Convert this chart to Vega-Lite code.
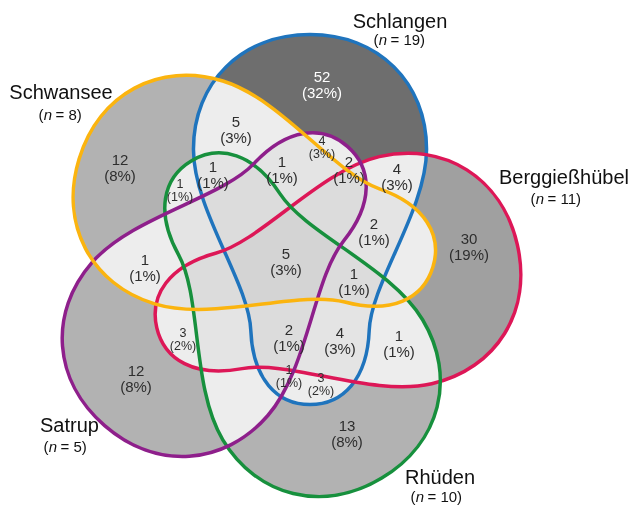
{
  "$schema": "https://vega.github.io/schema/vega-lite/v6.json",
  "width": 633,
  "height": 505,
  "padding": 0,
  "autosize": {"type": "fit", "contains": "padding"},
  "background": "white",
  "config": {"view": {"stroke": null}, "font": "Liberation Sans"},
  "datasets": {
    "shapes": [
      {"set": "Schlangen", "cx": 310, "cy": 219.5},
      {"set": "Berggießhübel", "cx": 337, "cy": 286},
      {"set": "Rhüden", "cx": 286.5, "cy": 319.5},
      {"set": "Satrup", "cx": 226, "cy": 286},
      {"set": "Schwansee", "cx": 256, "cy": 213}
    ],
    "frame": [{"part": "plot"}],
    "regions": [
      {"region": "Schlangen", "count": 52, "pct": 32, "x": 322, "y": 84.5},
      {"region": "Schlangen ∩ Schwansee", "count": 5, "pct": 3, "x": 236, "y": 130},
      {"region": "Schlangen ∩ Satrup", "count": 4, "pct": 3, "x": 322, "y": 147.5},
      {"region": "Schlangen ∩ Satrup ∩ Schwansee", "count": 1, "pct": 1, "x": 282, "y": 170},
      {"region": "Schlangen ∩ Berggießhübel ∩ Satrup", "count": 2, "pct": 1, "x": 349, "y": 170},
      {"region": "Schlangen ∩ Berggießhübel", "count": 4, "pct": 3, "x": 397, "y": 177},
      {"region": "Schlangen ∩ Rhüden ∩ Schwansee", "count": 1, "pct": 1, "x": 213, "y": 175},
      {"region": "Rhüden ∩ Schwansee", "count": 1, "pct": 1, "x": 180, "y": 190.5},
      {"region": "Schwansee", "count": 12, "pct": 8, "x": 120, "y": 168},
      {"region": "Satrup ∩ Schwansee", "count": 1, "pct": 1, "x": 145, "y": 267.5},
      {"region": "Berggießhübel ∩ Satrup", "count": 3, "pct": 2, "x": 183, "y": 339},
      {"region": "Satrup", "count": 12, "pct": 8, "x": 136, "y": 378.5},
      {"region": "Schlangen ∩ Berggießhübel ∩ Rhüden ∩ Satrup ∩ Schwansee", "count": 5, "pct": 3, "x": 286, "y": 261.5},
      {"region": "Schlangen ∩ Berggießhübel ∩ Schwansee", "count": 2, "pct": 1, "x": 374, "y": 232},
      {"region": "Schlangen ∩ Berggießhübel ∩ Rhüden ∩ Schwansee", "count": 1, "pct": 1, "x": 354, "y": 281.5},
      {"region": "Berggießhübel", "count": 30, "pct": 19, "x": 469, "y": 247},
      {"region": "Schlangen ∩ Berggießhübel ∩ Rhüden ∩ Satrup", "count": 2, "pct": 1, "x": 289, "y": 337.5},
      {"region": "Schlangen ∩ Berggießhübel ∩ Rhüden", "count": 4, "pct": 3, "x": 340, "y": 341},
      {"region": "Berggießhübel ∩ Rhüden", "count": 1, "pct": 1, "x": 399, "y": 344},
      {"region": "Schlangen ∩ Rhüden ∩ Satrup", "count": 1, "pct": 1, "x": 289, "y": 376},
      {"region": "Schlangen ∩ Rhüden", "count": 3, "pct": 2, "x": 321, "y": 384.5},
      {"region": "Rhüden", "count": 13, "pct": 8, "x": 347, "y": 434}
    ],
    "sets": [
      {"set": "Schlangen", "n": 19, "x": 400, "y": 22, "nx": 383, "ny": 40},
      {"set": "Schwansee", "n": 8, "x": 61, "y": 93, "nx": 48, "ny": 115},
      {"set": "Berggießhübel", "n": 11, "x": 564, "y": 178, "nx": 540, "ny": 199},
      {"set": "Satrup", "n": 5, "x": 69.5, "y": 426, "nx": 53, "ny": 447},
      {"set": "Rhüden", "n": 10, "x": 440, "y": 478, "nx": 420, "ny": 497}
    ]
  },
  "layer": [
    {
      "data": {"name": "shapes"},
      "mark": {"type": "point", "shape": "M0,-1C0.37,-1,0.63,-0.74,0.63,-0.38C0.63,-0.05,0.33,0.34,0.32,0.6C0.31,0.86,0.18,1,0,1C-0.18,1,-0.31,0.86,-0.32,0.6C-0.33,0.34,-0.63,-0.05,-0.63,-0.38C-0.63,-0.74,-0.37,-1,0,-1Z", "size": 136900, "filled": true, "fill": "black", "strokeWidth": 0, "opacity": 1},
      "encoding": {
        "x": {"field": "cx", "type": "quantitative", "scale": {"domain": [0, 633], "nice": false, "zero": false}, "axis": null},
        "y": {"field": "cy", "type": "quantitative", "scale": {"domain": [0, 505], "nice": false, "zero": false, "reverse": true}, "axis": null},
        "angle": {"field": "set", "type": "nominal", "scale": {"type": "ordinal", "domain": ["Schlangen", "Berggießhübel", "Rhüden", "Satrup", "Schwansee"], "range": [0, 77, 149, 221, 287]}, "legend": null},
        "fillOpacity": {"field": "set", "type": "nominal", "scale": {"type": "ordinal", "domain": ["Schlangen", "Berggießhübel", "Rhüden", "Satrup", "Schwansee"], "range": [0.2, 0.2663, 0.2916, 0.2916, 0.2916]}, "legend": null}
      }
    },
    {
      "data": {"name": "frame"},
      "mark": {"type": "rect", "fill": "#cccccc", "blend": "difference"},
      "encoding": {"x": {"value": 0}, "x2": {"value": "width"}, "y": {"value": 0}, "y2": {"value": "height"}}
    },
    {
      "data": {"name": "frame"},
      "mark": {"type": "rect", "fill": "#d1d1d1", "blend": "color-dodge"},
      "encoding": {"x": {"value": 0}, "x2": {"value": "width"}, "y": {"value": 0}, "y2": {"value": "height"}}
    },
    {
      "data": {"name": "frame"},
      "mark": {"type": "rect", "fill": "#727272", "blend": "screen"},
      "encoding": {"x": {"value": 0}, "x2": {"value": "width"}, "y": {"value": 0}, "y2": {"value": "height"}}
    },
    {
      "data": {"name": "shapes"},
      "mark": {"type": "point", "shape": "M0,-1C0.37,-1,0.63,-0.74,0.63,-0.38C0.63,-0.05,0.33,0.34,0.32,0.6C0.31,0.86,0.18,1,0,1C-0.18,1,-0.31,0.86,-0.32,0.6C-0.33,0.34,-0.63,-0.05,-0.63,-0.38C-0.63,-0.74,-0.37,-1,0,-1Z", "size": 136900, "filled": true, "fill": "#f6f6f6", "strokeWidth": 0, "opacity": 1, "blend": "multiply"},
      "encoding": {
        "x": {"field": "cx", "type": "quantitative", "scale": {"domain": [0, 633], "nice": false, "zero": false}, "axis": null},
        "y": {"field": "cy", "type": "quantitative", "scale": {"domain": [0, 505], "nice": false, "zero": false, "reverse": true}, "axis": null},
        "angle": {"field": "set", "type": "nominal", "scale": {"type": "ordinal", "domain": ["Schlangen", "Berggießhübel", "Rhüden", "Satrup", "Schwansee"], "range": [0, 77, 149, 221, 287]}, "legend": null}
      }
    },
    {
      "data": {"name": "shapes"},
      "mark": {"type": "point", "shape": "M0,-1C0.37,-1,0.63,-0.74,0.63,-0.38C0.63,-0.05,0.33,0.34,0.32,0.6C0.31,0.86,0.18,1,0,1C-0.18,1,-0.31,0.86,-0.32,0.6C-0.33,0.34,-0.63,-0.05,-0.63,-0.38C-0.63,-0.74,-0.37,-1,0,-1Z", "size": 136900, "filled": false, "strokeWidth": 3.5, "opacity": 1},
      "encoding": {
        "x": {"field": "cx", "type": "quantitative", "scale": {"domain": [0, 633], "nice": false, "zero": false}, "axis": null},
        "y": {"field": "cy", "type": "quantitative", "scale": {"domain": [0, 505], "nice": false, "zero": false, "reverse": true}, "axis": null},
        "angle": {"field": "set", "type": "nominal", "scale": {"type": "ordinal", "domain": ["Schlangen", "Berggießhübel", "Rhüden", "Satrup", "Schwansee"], "range": [0, 77, 149, 221, 287]}, "legend": null},
        "stroke": {"field": "set", "type": "nominal", "scale": {"domain": ["Schlangen", "Berggießhübel", "Rhüden", "Satrup", "Schwansee"], "range": ["#1f74bd", "#dd1757", "#17903d", "#8e1f8b", "#fbb40f"]}, "legend": null}
      }
    },
    {
      "data": {"name": "regions"},
      "transform": [
        {"filter": "indexof(['Schlangen ∩ Satrup','Rhüden ∩ Schwansee','Berggießhübel ∩ Satrup','Schlangen ∩ Rhüden ∩ Satrup','Schlangen ∩ Rhüden'], datum.region) < 0"}
      ],
      "mark": {"type": "text", "fontSize": 15, "baseline": "middle", "align": "center", "dy": -8},
      "encoding": {
        "x": {"field": "x", "type": "quantitative"},
        "y": {"field": "y", "type": "quantitative"},
        "text": {"field": "count", "type": "quantitative"},
        "color": {"condition": {"test": "datum.region == 'Schlangen'", "value": "white"}, "value": "#2e2e2e"}
      }
    },
    {
      "data": {"name": "regions"},
      "transform": [
        {"filter": "indexof(['Schlangen ∩ Satrup','Rhüden ∩ Schwansee','Berggießhübel ∩ Satrup','Schlangen ∩ Rhüden ∩ Satrup','Schlangen ∩ Rhüden'], datum.region) < 0"},
        {"calculate": "'(' + datum.pct + '%)'", "as": "pctLabel"}
      ],
      "mark": {"type": "text", "fontSize": 15, "baseline": "middle", "align": "center", "dy": 8},
      "encoding": {
        "x": {"field": "x", "type": "quantitative"},
        "y": {"field": "y", "type": "quantitative"},
        "text": {"field": "pctLabel"},
        "color": {"condition": {"test": "datum.region == 'Schlangen'", "value": "white"}, "value": "#2e2e2e"}
      }
    },
    {
      "data": {"name": "regions"},
      "transform": [
        {"filter": "indexof(['Schlangen ∩ Satrup','Rhüden ∩ Schwansee','Berggießhübel ∩ Satrup','Schlangen ∩ Rhüden ∩ Satrup','Schlangen ∩ Rhüden'], datum.region) >= 0"}
      ],
      "mark": {"type": "text", "fontSize": 12.5, "baseline": "middle", "align": "center", "dy": -6.5, "color": "#2e2e2e"},
      "encoding": {
        "x": {"field": "x", "type": "quantitative"},
        "y": {"field": "y", "type": "quantitative"},
        "text": {"field": "count", "type": "quantitative"}
      }
    },
    {
      "data": {"name": "regions"},
      "transform": [
        {"filter": "indexof(['Schlangen ∩ Satrup','Rhüden ∩ Schwansee','Berggießhübel ∩ Satrup','Schlangen ∩ Rhüden ∩ Satrup','Schlangen ∩ Rhüden'], datum.region) >= 0"},
        {"calculate": "'(' + datum.pct + '%)'", "as": "pctLabel"}
      ],
      "mark": {"type": "text", "fontSize": 12.5, "baseline": "middle", "align": "center", "dy": 6.5, "color": "#2e2e2e"},
      "encoding": {
        "x": {"field": "x", "type": "quantitative"},
        "y": {"field": "y", "type": "quantitative"},
        "text": {"field": "pctLabel"}
      }
    },
    {
      "data": {"name": "sets"},
      "mark": {"type": "text", "fontSize": 20, "baseline": "middle", "align": "center", "color": "#111111"},
      "encoding": {
        "x": {"field": "x", "type": "quantitative"},
        "y": {"field": "y", "type": "quantitative"},
        "text": {"field": "set"}
      }
    },
    {
      "data": {"name": "sets"},
      "mark": {"type": "text", "fontSize": 15, "baseline": "middle", "align": "right", "dx": -4.5, "color": "#111111"},
      "encoding": {
        "x": {"field": "nx", "type": "quantitative"},
        "y": {"field": "ny", "type": "quantitative"},
        "text": {"value": "("}
      }
    },
    {
      "data": {"name": "sets"},
      "mark": {"type": "text", "fontSize": 15, "fontStyle": "italic", "baseline": "middle", "align": "center", "color": "#111111"},
      "encoding": {
        "x": {"field": "nx", "type": "quantitative"},
        "y": {"field": "ny", "type": "quantitative"},
        "text": {"value": "n"}
      }
    },
    {
      "data": {"name": "sets"},
      "transform": [{"calculate": "'= ' + datum.n + ')'", "as": "tail"}],
      "mark": {"type": "text", "fontSize": 15, "baseline": "middle", "align": "left", "dx": 7.5, "color": "#111111"},
      "encoding": {
        "x": {"field": "nx", "type": "quantitative"},
        "y": {"field": "ny", "type": "quantitative"},
        "text": {"field": "tail"}
      }
    }
  ]
}
